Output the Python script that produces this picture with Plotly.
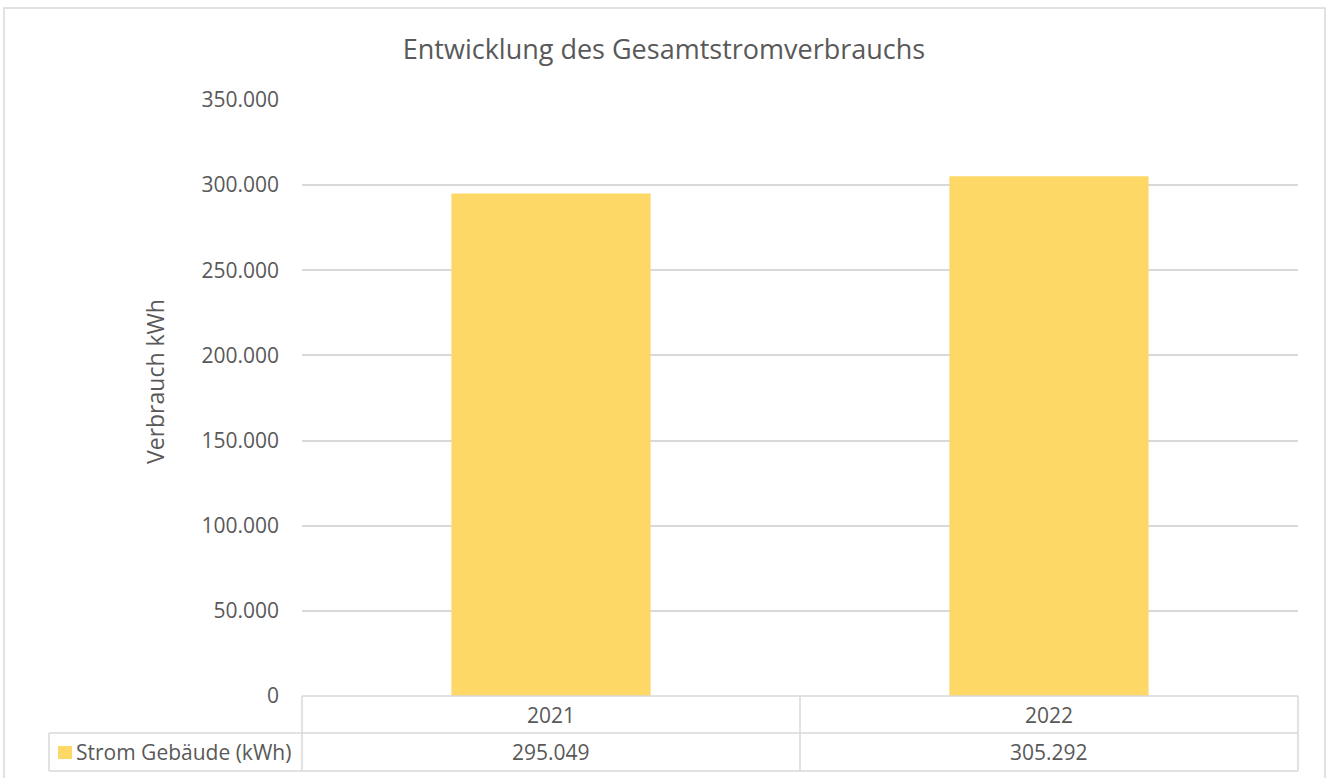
import plotly.graph_objects as go

# data
years = ["2021", "2022"]
strom_kwh = [295049, 305292]
series_name = "Strom Gebäude (kWh)"
chart_title = "Entwicklung des Gesamtstromverbrauchs"
y_title = "Verbrauch kWh"

W, H = 1328, 778
L, R, T, B = 302, 30, 100, 82
plot_w = W - L - R
plot_h = H - T - B

bar_color = "#FDD866"
grid_color = "#D9D9D9"
text_color = "#595959"
font_family = "Open Sans, Noto Sans, sans-serif"


def px_x(p):
    # page pixel -> paper x
    return (p - L) / plot_w


def px_y(p):
    # page pixel -> paper y
    return (H - B - p) / plot_h


def fmt(v):
    return f"{v:,}".replace(",", ".")


fig = go.Figure()
fig.add_trace(go.Bar(
    x=years,
    y=strom_kwh,
    name=series_name,
    marker=dict(color=bar_color, line=dict(width=0)),
    hovertemplate="%{x}: %{y:,}<extra></extra>",
))

shapes = []
line = dict(color=grid_color, width=1.5)

# outer chart border
shapes.append(dict(type="rect", xref="paper", yref="paper",
                   x0=px_x(4), x1=px_x(1325), y0=px_y(800), y1=px_y(8),
                   line=dict(color=grid_color, width=1.5), layer="below"))

# data table lines
row1_bot = px_y(733)
row2_bot = px_y(771)
left_col = px_x(49)
shapes.append(dict(type="line", xref="paper", yref="paper", x0=0, x1=1, y0=0, y1=0, line=line))
shapes.append(dict(type="line", xref="paper", yref="paper", x0=left_col, x1=1, y0=row1_bot, y1=row1_bot, line=line))
shapes.append(dict(type="line", xref="paper", yref="paper", x0=left_col, x1=1, y0=row2_bot, y1=row2_bot, line=line))
shapes.append(dict(type="line", xref="paper", yref="paper", x0=left_col, x1=left_col, y0=row2_bot, y1=row1_bot, line=line))
n = len(years)
for i in range(n + 1):
    xp = i / n
    shapes.append(dict(type="line", xref="paper", yref="paper", x0=xp, x1=xp, y0=row2_bot, y1=0, line=line))

# legend key
shapes.append(dict(type="rect", xref="paper", yref="paper",
                   x0=px_x(58), x1=px_x(72), y0=px_y(759), y1=px_y(746),
                   fillcolor=bar_color, line=dict(width=0)))

cell_font = dict(size=21, color=text_color)
annotations = []
row1_mid = px_y(715)
row2_mid = px_y(752)
for i, (yr, v) in enumerate(zip(years, strom_kwh)):
    annotations.append(dict(x=i, xref="x", y=row1_mid, yref="paper", text=yr,
                            showarrow=False, xanchor="center", yanchor="middle", font=cell_font))
    annotations.append(dict(x=i, xref="x", y=row2_mid, yref="paper", text=fmt(v),
                            showarrow=False, xanchor="center", yanchor="middle", font=cell_font))
annotations.append(dict(x=px_x(74), xref="paper", y=row2_mid, yref="paper", text=series_name,
                        showarrow=False, xanchor="left", yanchor="middle", font=cell_font))
annotations.append(dict(x=px_x(155), xref="paper", y=px_y(382), yref="paper", text=y_title,
                        textangle=-90, showarrow=False, xanchor="center", yanchor="middle",
                        font=dict(size=23, color=text_color)))

fig.update_layout(
    width=W, height=H,
    margin=dict(l=L, r=R, t=T, b=B, pad=0),
    paper_bgcolor="white",
    plot_bgcolor="white",
    separators=",.",
    font=dict(family=font_family, color=text_color),
    title=dict(text=chart_title, x=0.5, xanchor="center", y=1 - 50 / H, yanchor="middle",
               font=dict(size=27, color=text_color)),
    bargap=0.6,
    showlegend=False,
    shapes=shapes,
    annotations=annotations,
)
fig.update_xaxes(type="category", range=[-0.5, len(years) - 0.5],
                 showticklabels=False, showgrid=False, zeroline=False, showline=False)
fig.update_yaxes(range=[0, 350000], dtick=50000, tickformat=",d",
                 showgrid=True, gridcolor=grid_color, gridwidth=1.5,
                 zeroline=False, showline=False,
                 ticklabelstandoff=22,
                 tickfont=dict(size=21, color=text_color))

fig.write_html("out.html", config={"displayModeBar": False},
               post_script="document.body.style.margin='0';")
